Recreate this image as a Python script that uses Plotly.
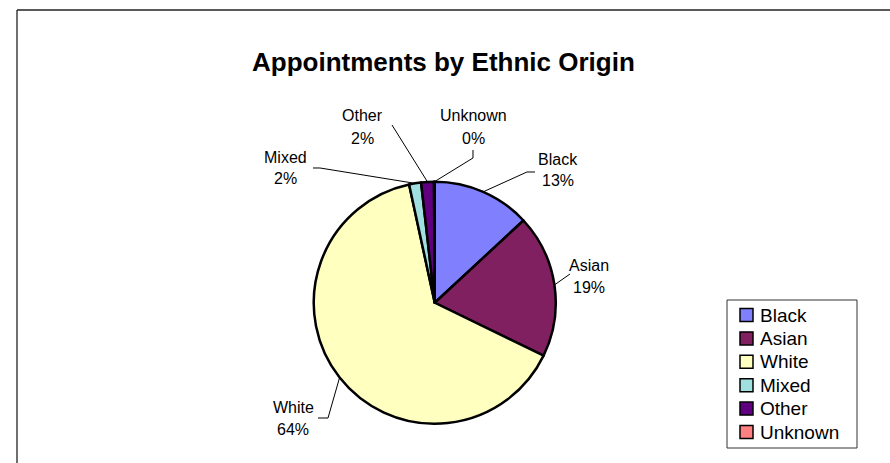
import math
import plotly.graph_objects as go

# Appointment share by ethnic origin (percent of all appointments)
categories = ["Black", "Asian", "White", "Mixed", "Other", "Unknown"]
shares = [13.1, 19.1, 64.4, 1.6, 1.7, 0.1]
slice_colors = ["#8080FF", "#802060", "#FFFFC0", "#A0E0E0", "#600080", "#FF8080"]

TITLE = "Appointments by Ethnic Origin"

# ---- canvas geometry (pixels) ----
W, H = 890, 463
FONT = "Liberation Sans, Arial, sans-serif"
CX, CY, R = 434.75, 302.75, 121.0  # pie centre and radius


def px(x):
    return x / W


def py(y):
    return 1 - y / H


# label placement: centre x, name-line y, percent-line y, leader-line bend points
label_layout = {
    "Black":   dict(x=558, y1=159, y2=181, bends=[(527, 172), (535, 172)]),
    "Asian":   dict(x=589, y1=265, y2=287, bends=[(570, 274)]),
    "White":   dict(x=293, y1=407, y2=429, bends=[(328, 418), (318, 418)]),
    "Mixed":   dict(x=285, y1=157, y2=179, bends=[(320, 168), (313, 168)]),
    "Other":   dict(x=362, y1=116, y2=138, bends=[(392, 125)]),
    "Unknown": dict(x=473, y1=116, y2=138, bends=[(473, 158), (473, 150)]),
}

fig = go.Figure(
    go.Pie(
        labels=categories,
        values=shares,
        sort=False,
        direction="clockwise",
        rotation=0,
        marker=dict(colors=slice_colors, line=dict(color="black", width=2.5)),
        textinfo="none",
        hoverinfo="label+percent",
        showlegend=False,
        domain=dict(x=[px(CX - R), px(CX + R)], y=[py(CY + R), py(CY - R)]),
    )
)

shapes = []
annotations = []

total = sum(shares)
cum = 0.0
for name, val in zip(categories, shares):
    mid = (cum + val / 2) / total * 2 * math.pi
    cum += val
    ax = CX + R * math.sin(mid)
    ay = CY - R * math.cos(mid)
    lay = label_layout[name]
    pts = [(ax, ay)] + lay["bends"]
    path = "M " + " L ".join(f"{px(x):.5f},{py(y):.5f}" for x, y in pts)
    shapes.append(dict(type="path", xref="paper", yref="paper", path=path,
                       line=dict(color="black", width=1)))
    pct = f"{round(val / total * 100)}%"
    for text, yy in ((name, lay["y1"]), (pct, lay["y2"])):
        annotations.append(dict(
            x=px(lay["x"]), y=py(yy), xref="paper", yref="paper",
            text=text, showarrow=False, xanchor="center", yanchor="middle",
            font=dict(family=FONT, size=16, color="black"),
        ))

# title
annotations.append(dict(
    x=px(443), y=py(62), xref="paper", yref="paper", text=f"<b>{TITLE}</b>",
    showarrow=False, xanchor="center", yanchor="middle",
    font=dict(family=FONT, size=26, color="black"),
))

# chart frame (top and left edges visible)
shapes.append(dict(type="line", xref="paper", yref="paper",
                   x0=px(17), y0=py(10), x1=px(900), y1=py(10),
                   line=dict(color="#222222", width=1.3)))
shapes.append(dict(type="line", xref="paper", yref="paper",
                   x0=px(17), y0=py(10), x1=px(17), y1=py(480),
                   line=dict(color="#222222", width=1.3)))

# legend box with swatches
shapes.append(dict(type="rect", xref="paper", yref="paper",
                   x0=px(727), y0=py(300), x1=px(857), y1=py(448),
                   line=dict(color="#333333", width=1), fillcolor="white"))
for i, (name, col) in enumerate(zip(categories, slice_colors)):
    yc = 315 + 23.4 * i
    shapes.append(dict(type="rect", xref="paper", yref="paper",
                       x0=px(740), y0=py(yc - 6.5), x1=px(753), y1=py(yc + 6.5),
                       line=dict(color="black", width=1.5), fillcolor=col))
    annotations.append(dict(
        x=px(758), y=py(yc), xref="paper", yref="paper", text=name,
        showarrow=False, xanchor="left", yanchor="middle",
        font=dict(family=FONT, size=19, color="black"),
    ))

fig.update_layout(
    width=W, height=H,
    margin=dict(l=0, r=0, t=0, b=0),
    paper_bgcolor="white",
    plot_bgcolor="white",
    shapes=shapes,
    annotations=annotations,
)

fig.write_html("out.html")
